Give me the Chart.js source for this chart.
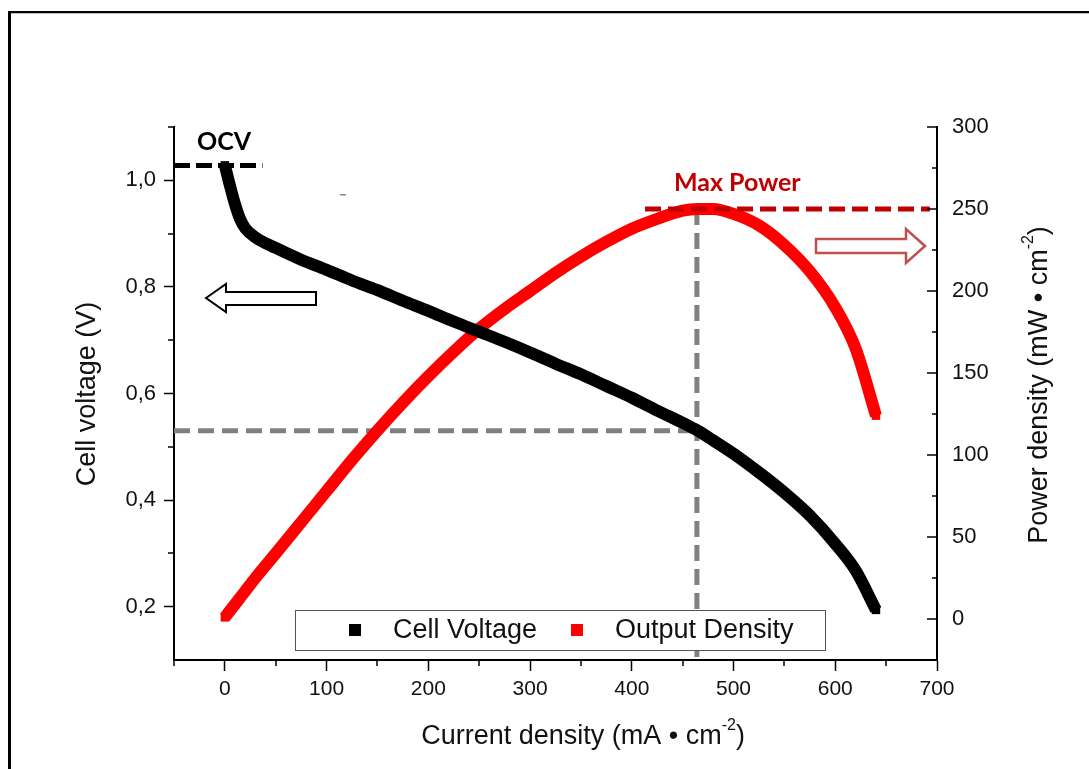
<!DOCTYPE html>
<html><head><meta charset="utf-8">
<script src="https://cdn.jsdelivr.net/npm/chart.js@4.4.0/dist/chart.umd.min.js"></script>
<style>html,body{margin:0;padding:0;background:#fff;overflow:hidden}#wrap{width:1089px;height:769px;position:relative}</style>
</head><body><div id="wrap"><canvas id="c" width="1089" height="769"></canvas></div>
<script>
// ---- data ----
const currentDensity = [0,5,10,15,20,30,50,75,100,125,150,175,200,225,250,275,300,325,350,375,400,425,450,465,480,500,525,550,575,600,620,640];
const cellVoltage   = [1.028,0.99,0.955,0.927,0.91,0.893,0.873,0.851,0.832,0.812,0.794,0.774,0.755,0.735,0.716,0.697,0.677,0.656,0.636,0.614,0.592,0.568,0.545,0.53,0.512,0.487,0.452,0.414,0.371,0.318,0.268,0.194];
const powerDensity  = [1,5,9,13,17,25,40,59,78,97,115,132,148,163,177,189,200,211,221,230,238,244,249,250,250,247,240,228,212,190,165,124];
const seriesLabels = ['Cell Voltage','Output Density'];
const seriesColors = ['#000000','#ff0000'];

const xTicks = [0,100,200,300,400,500,600,700];
const xMinorTicks = [-50,50,150,250,350,450,550,650];
const leftTicks = [0.2,0.4,0.6,0.8,1.0];
const leftMinorTicks = [0.3,0.5,0.7,0.9,1.1];
const rightTicks = [0,50,100,150,200,250,300];
const rightMinorTicks = [-25,25,75,125,175,225,275];

// annotation values
const ocvVoltage = 1.028, ocvLineEnd = 37;
const maxPowerCurrent = 464, maxPowerValue = 250, maxPowerVoltage = 0.53, maxPowerLineStart = 413, maxPowerLineEnd = 693;

const FONT = '"Liberation Sans", Arial, sans-serif';
Chart.defaults.font.family = FONT;

function drawRich(ctx, parts, cx, cy, rot, size) {
  ctx.save();
  ctx.translate(cx, cy); ctx.rotate(rot);
  let total = 0;
  parts.forEach(p => { ctx.font = (p.sup ? Math.round(size*0.6) : size) + 'px ' + FONT; p.w = ctx.measureText(p.t).width; total += p.w; });
  let x = -total/2;
  ctx.fillStyle = '#111'; ctx.textBaseline = 'middle'; ctx.textAlign = 'left';
  parts.forEach(p => { ctx.font = (p.sup ? Math.round(size*0.6) : size) + 'px ' + FONT; ctx.fillText(p.t, x, p.sup ? -size*0.42 : 0); x += p.w; });
  ctx.restore();
}

function dashed(ctx, x1, y1, x2, y2, color, w, dash) {
  ctx.save(); ctx.strokeStyle = color; ctx.lineWidth = w; ctx.setLineDash(dash);
  ctx.beginPath(); ctx.moveTo(x1, y1); ctx.lineTo(x2, y2); ctx.stroke(); ctx.restore();
}

const decor = {
  id: 'decor',
  beforeDraw(chart) {
    const ctx = chart.ctx;
    ctx.save(); ctx.fillStyle = '#fff'; ctx.fillRect(0,0,chart.width,chart.height);
    ctx.fillStyle = '#000'; ctx.fillRect(8,11,3,chart.height-11); ctx.fillRect(8,11,chart.width-8,2);
    ctx.fillStyle = '#bbb'; ctx.fillRect(11,13,chart.width-11,1);
    ctx.restore();
  },
  beforeDatasetsDraw(chart) {
    const ctx = chart.ctx, xs = chart.scales.x, yl = chart.scales.y, yr = chart.scales.y2, a = chart.chartArea;
    const px = xs.getPixelForValue(maxPowerCurrent);
    dashed(ctx, px, yr.getPixelForValue(maxPowerValue), px, a.bottom, '#808080', 5, [16,8]);
    dashed(ctx, a.left, yl.getPixelForValue(maxPowerVoltage), px, yl.getPixelForValue(maxPowerVoltage), '#808080', 5, [16,8]);
  },
  afterDatasetsDraw(chart) {
    const ctx = chart.ctx, xs = chart.scales.x, yl = chart.scales.y, yr = chart.scales.y2, a = chart.chartArea;
    const oy = yl.getPixelForValue(ocvVoltage);
    dashed(ctx, a.left, oy, xs.getPixelForValue(ocvLineEnd), oy, '#000', 5, [16,6]);
    const my = yr.getPixelForValue(maxPowerValue);
    dashed(ctx, xs.getPixelForValue(maxPowerLineStart), my, xs.getPixelForValue(maxPowerLineEnd), my, '#c00000', 5, [16,7]);
    ctx.save();
    ctx.font = 'bold 25px Lato, "Open Sans", sans-serif'; ctx.textBaseline = 'middle'; ctx.textAlign = 'left';
    ctx.fillStyle = '#000'; ctx.fillText('OCV', 197, 142);
    ctx.fillStyle = '#c00000'; ctx.fillText('Max Power', 674, 183);
    ctx.fillStyle = '#888'; ctx.fillRect(340,194,6,1.5);
    ctx.lineWidth = 2; ctx.strokeStyle = '#000'; ctx.fillStyle = '#fff';
    ctx.beginPath();
    ctx.moveTo(206,298); ctx.lineTo(226,284); ctx.lineTo(226,292); ctx.lineTo(316,292); ctx.lineTo(316,305); ctx.lineTo(226,305); ctx.lineTo(226,312); ctx.closePath();
    ctx.fill(); ctx.stroke();
    ctx.lineWidth = 2.5; ctx.strokeStyle = '#c0504d';
    ctx.beginPath();
    ctx.moveTo(925,246); ctx.lineTo(906,229); ctx.lineTo(906,239); ctx.lineTo(816,239); ctx.lineTo(816,253); ctx.lineTo(906,253); ctx.lineTo(906,263); ctx.closePath();
    ctx.fill(); ctx.stroke();
    ctx.restore();
  },
  afterDraw(chart) {
    const ctx = chart.ctx, xs = chart.scales.x, yl = chart.scales.y, yr = chart.scales.y2, a = chart.chartArea;
    ctx.save(); ctx.strokeStyle = '#000'; ctx.lineWidth = 1.5;
    ctx.beginPath();
    xMinorTicks.forEach(v => { const p = Math.round(xs.getPixelForValue(v)); ctx.moveTo(p, a.bottom); ctx.lineTo(p, a.bottom+6); });
    leftMinorTicks.forEach(v => { const p = Math.round(yl.getPixelForValue(v)); ctx.moveTo(a.left, p); ctx.lineTo(a.left-6, p); });
    rightTicks.forEach(v => { const p = Math.round(yr.getPixelForValue(v)); ctx.moveTo(a.right, p); ctx.lineTo(a.right-10, p); });
    rightMinorTicks.forEach(v => { const p = Math.round(yr.getPixelForValue(v)); ctx.moveTo(a.right, p); ctx.lineTo(a.right-5, p); });
    ctx.stroke();
    // legend
    ctx.fillStyle = '#fff'; ctx.fillRect(295,610,530,40);
    ctx.strokeStyle = '#555'; ctx.lineWidth = 1; ctx.strokeRect(295.5,610.5,530,40);
    const items = chart.data.datasets;
    const pos = [[355,393],[577,615]];
    items.forEach((ds,i) => {
      ctx.fillStyle = ds.borderColor; ctx.fillRect(pos[i][0]-6, 624, 12, 12);
      ctx.fillStyle = '#111'; ctx.font = '27px ' + FONT; ctx.textBaseline = 'middle'; ctx.textAlign = 'left';
      ctx.fillText(ds.label, pos[i][1], 631);
    });
    ctx.restore();
    drawRich(ctx, [{t:'Current density (mA • cm'},{t:'-2',sup:true},{t:')'}], 583, 737, 0, 27);
    drawRich(ctx, [{t:'Cell voltage (V)'}], 88, 394, -Math.PI/2, 27);
    drawRich(ctx, [{t:'Power density (mW • cm'},{t:'-2',sup:true},{t:')'}], 1040, 385, -Math.PI/2, 27);
  }
};

const xTickFont = {size: 21, family: FONT};
const yTickFont = {size: 22, family: FONT};
new Chart(document.getElementById('c'), {
  type: 'scatter',
  data: {
    datasets: [
      {label: seriesLabels[0], data: currentDensity.map((x,i)=>({x, y: cellVoltage[i]})), yAxisID: 'y',
       borderColor: seriesColors[0], backgroundColor: seriesColors[0], borderWidth: 12, showLine: true,
       pointStyle: 'rect', pointRadius: 6, pointBorderWidth: 0, cubicInterpolationMode: 'monotone'},
      {label: seriesLabels[1], data: currentDensity.map((x,i)=>({x, y: powerDensity[i]})), yAxisID: 'y2',
       borderColor: seriesColors[1], backgroundColor: seriesColors[1], borderWidth: 12, showLine: true,
       pointStyle: 'rect', pointRadius: 6, pointBorderWidth: 0, cubicInterpolationMode: 'monotone'}
    ]
  },
  options: {
    responsive: false, animation: false, devicePixelRatio: 1,
    layout: {padding: {top: 127, left: 0, right: 0, bottom: 0}},
    plugins: {legend: {display: false}, tooltip: {enabled: false}},
    scales: {
      x: {type: 'linear', position: 'bottom', min: -50, max: 700,
          afterBuildTicks: s => { s.ticks = xTicks.map(v => ({value: v})); },
          afterFit: s => { s.height = 109; },
          grid: {drawOnChartArea: false, drawTicks: true, tickLength: 11, tickColor: '#000', tickWidth: 1.5},
          border: {display: true, color: '#000', width: 2},
          ticks: {font: xTickFont, color: '#111', padding: 6, maxRotation: 0, autoSkip: false}},
      y: {type: 'linear', position: 'left', min: 0.1, max: 1.1,
          afterBuildTicks: s => { s.ticks = leftTicks.map(v => ({value: v})); },
          afterFit: s => { s.width = 174; },
          grid: {drawOnChartArea: false, drawTicks: true, tickLength: 10, tickColor: '#000', tickWidth: 1.5},
          border: {display: true, color: '#000', width: 2},
          ticks: {font: yTickFont, color: '#111', padding: 8, autoSkip: false, callback: v => v.toFixed(1).replace('.', ',')}},
      y2: {type: 'linear', position: 'right', min: -25, max: 300,
          afterBuildTicks: s => { s.ticks = rightTicks.map(v => ({value: v})); },
          afterFit: s => { s.width = 152; },
          grid: {drawOnChartArea: false, drawTicks: true, tickLength: 10, tickColor: 'rgba(0,0,0,0)'},
          border: {display: true, color: '#000', width: 2},
          ticks: {font: yTickFont, color: '#111', padding: 5, autoSkip: false}}
    }
  },
  plugins: [decor]
});
</script></body></html>
